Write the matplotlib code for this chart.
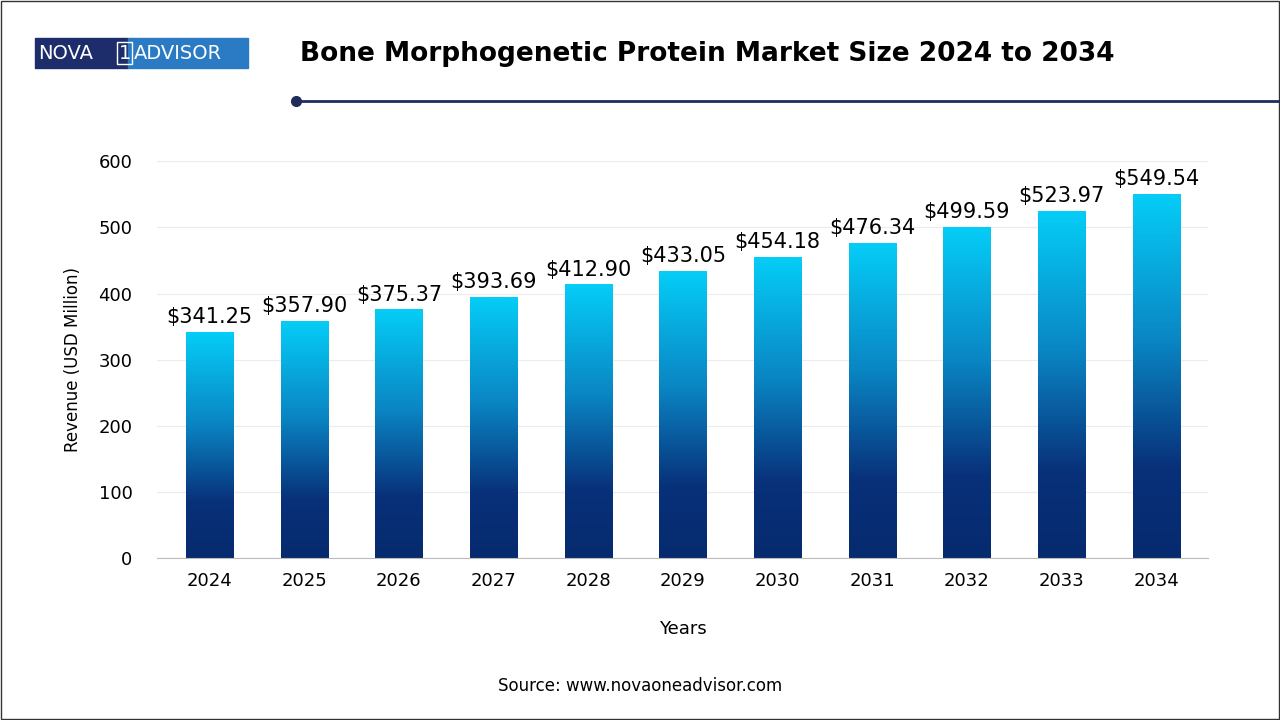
import matplotlib.pyplot as plt
import numpy as np
from matplotlib.colors import LinearSegmentedColormap
from matplotlib.patches import Rectangle

years = ['2024', '2025', '2026', '2027', '2028', '2029', '2030', '2031', '2032', '2033', '2034']
revenue = [341.25, 357.90, 375.37, 393.69, 412.90, 433.05, 454.18, 476.34, 499.59, 523.97, 549.54]

cmap = LinearSegmentedColormap.from_list('bar', [(0, '#062a6e'), (0.25, '#08317a'), (0.6, '#0a86c4'), (1, '#05cdf7')])

fig = plt.figure(figsize=(12.8, 7.2), dpi=100)
ax = fig.add_axes([0.123, 0.225, 0.821, 0.551])

x = np.arange(len(years))
w = 0.5
grad = np.linspace(0, 1, 256).reshape(-1, 1)
for xi, v in zip(x, revenue):
    ax.imshow(grad, cmap=cmap, origin='lower', aspect='auto',
              extent=(xi - w / 2, xi + w / 2, 0, v), zorder=2)
    ax.text(xi, v + 8, f'${v:.2f}', ha='center', va='bottom', fontsize=15)

ax.set_xlim(-0.55, len(years) - 0.45)
ax.set_ylim(0, 600)
ax.set_xticks(x)
ax.set_xticklabels(years, fontsize=13)
ax.set_yticks(range(0, 601, 100))
ax.tick_params(axis='y', labelsize=13, length=0, pad=18)
ax.tick_params(axis='x', length=0, pad=10)
ax.grid(axis='y', color='#ececec', lw=0.8, zorder=0)
for s in ['top', 'right', 'left']:
    ax.spines[s].set_visible(False)
ax.spines['bottom'].set_color('#bbbbbb')
ax.set_xlabel('Years', fontsize=13, labelpad=22)
ax.set_ylabel('Revenue (USD Million)', fontsize=12, labelpad=12)

fig.text(0.234, 0.925, 'Bone Morphogenetic Protein Market Size 2024 to 2034',
         fontsize=19, fontweight='bold', va='center')
fig.add_artist(plt.Line2D([0.232, 1.0], [0.86, 0.86], color='#1f2d5c', lw=2))
fig.add_artist(plt.Line2D([0.231], [0.86], marker='o', ms=7, color='#1f2d5c'))

# logo
fig.patches.append(Rectangle((0.027, 0.905), 0.073, 0.042, transform=fig.transFigure, color='#1d2d6b'))
fig.patches.append(Rectangle((0.100, 0.905), 0.094, 0.042, transform=fig.transFigure, color='#2a7bc4'))
fig.text(0.030, 0.926, 'NOVA', color='white', fontsize=14, va='center')
fig.text(0.0925, 0.926, '1', color='white', fontsize=14, va='center',
         bbox=dict(boxstyle='square,pad=0.08', fc='none', ec='white', lw=1))
fig.text(0.1045, 0.926, 'ADVISOR', color='white', fontsize=14, va='center')

fig.text(0.5, 0.04, 'Source: www.novaoneadvisor.com', ha='center', fontsize=12)
fig.patches.append(Rectangle((0.001, 0.001), 0.998, 0.998, transform=fig.transFigure,
                             fill=False, ec='#333333', lw=1))
fig.savefig('out.png', dpi=100)
